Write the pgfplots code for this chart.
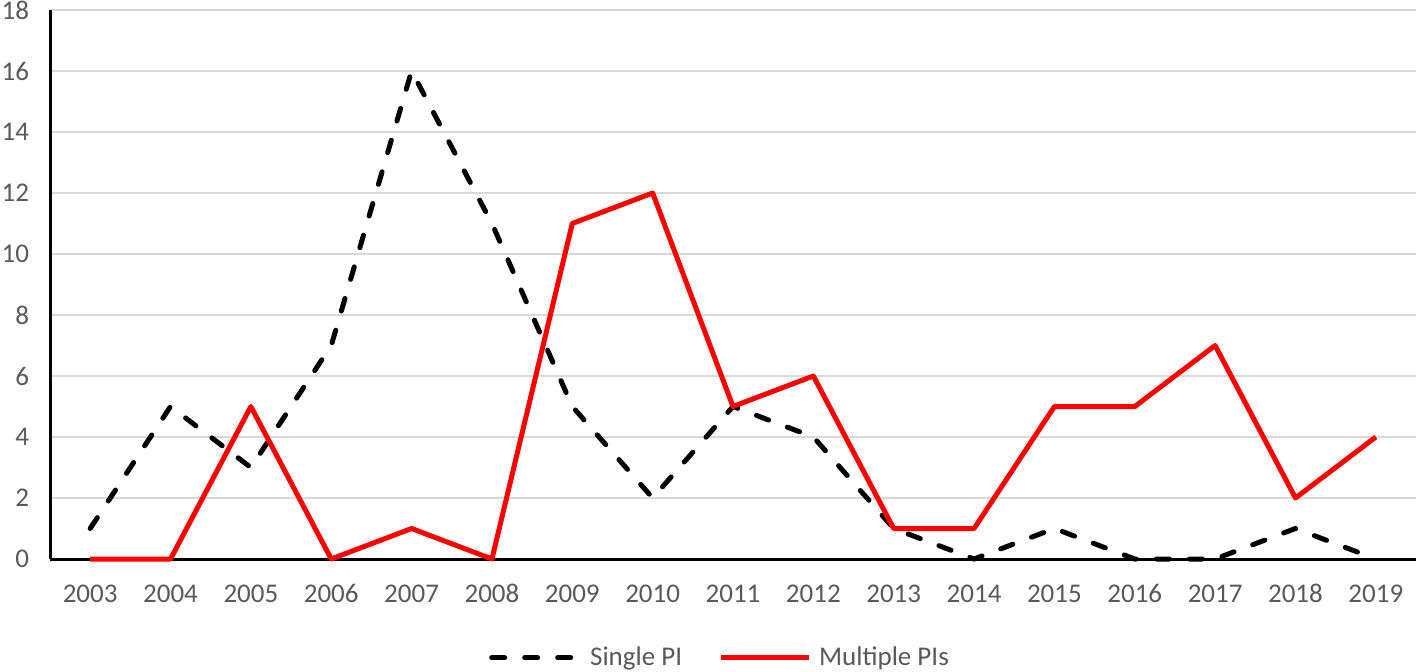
\documentclass[border=0pt]{standalone}
\usepackage{fontspec}
\setmainfont{Carlito}
\usepackage{pgfplots}
\pgfplotsset{compat=1.18}
\definecolor{txtgray}{HTML}{595959}
\definecolor{gridgray}{HTML}{D9D9D9}
\begin{document}
\begin{tikzpicture}
\path[use as bounding box] (-25bp,-56.5bp) rectangle (683bp,279.5bp);
\clip (-25bp,-56.5bp) rectangle (683bp,279.5bp);
\begin{axis}[
  scale only axis,
  width=683bp, height=274.5bp,
  at={(0,0)}, anchor=south west,
  xmin=-0.5, xmax=16.5,
  ymin=0, ymax=18,
  ytick={0,2,...,18},
  xtick={0,...,16},
  xticklabels={2003,2004,2005,2006,2007,2008,2009,2010,2011,2012,2013,2014,2015,2016,2017,2018,2019},
  axis x line*=bottom, axis y line*=left,
  axis line style={black, line width=1.5bp, -},
  major tick length=0pt,
  ymajorgrids, grid style={gridgray, line width=0.75bp},
  tick label style={font=\fontsize{13.5bp}{16bp}\selectfont, text=txtgray},
  /pgf/number format/assume math mode=true,
  yticklabel style={xshift=-7bp},
  xticklabel style={anchor=base, yshift=-21.5bp},
  legend style={draw=none, fill=none, at={(0.5,-0.18)}, anchor=center, xshift=-6bp,
    font=\fontsize{13.5bp}{16bp}\selectfont, text=txtgray,
    /tikz/every even column/.append style={column sep=16bp}},
  legend columns=2,
  legend image code/.code={\draw[#1] (0bp,0bp) -- (44bp,0bp);},
  clip=false,
]
\addplot[black, line width=2.5bp, line cap=round, dash pattern=on 6.5bp off 10bp] coordinates {
(0,1) (1,5) (2,3) (3,7) (4,16) (5,11) (6,5) (7,2) (8,5) (9,4) (10,1) (11,0) (12,1) (13,0) (14,0) (15,1) (16,0)};
\addlegendentry{\hspace{2bp}Single PI}
\addplot[red, line width=2.5bp, line join=round] coordinates {
(0,0) (1,0) (2,5) (3,0) (4,1) (5,0) (6,11) (7,12) (8,5) (9,6) (10,1) (11,1) (12,5) (13,5) (14,7) (15,2) (16,4)};
\addlegendentry{\hspace{2bp}Multiple PIs}
\end{axis}
\end{tikzpicture}
\end{document}
